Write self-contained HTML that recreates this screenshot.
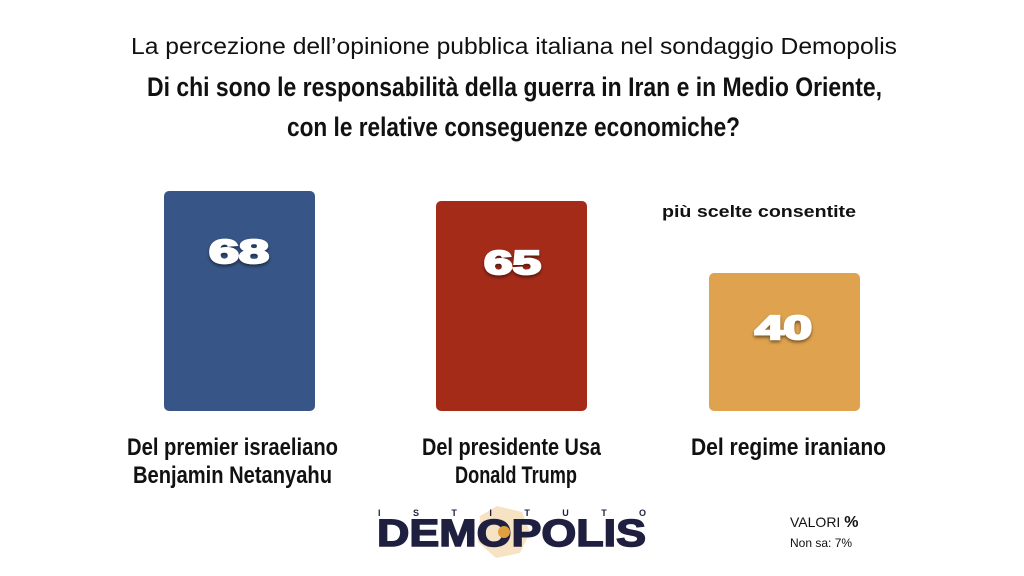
<!DOCTYPE html>
<html><head><meta charset="utf-8"><style>html,body{margin:0;padding:0;background:#fff;}svg{display:block}</style></head>
<body>
<svg width="1024" height="576" xmlns="http://www.w3.org/2000/svg" font-family="Liberation Sans, sans-serif">
<rect width="1024" height="576" fill="#fff"/>
<text x="131" y="54" font-size="23" fill="#111" textLength="766" lengthAdjust="spacingAndGlyphs">La percezione dell’opinione pubblica italiana nel sondaggio Demopolis</text>
<text x="147" y="96" font-size="27" font-weight="bold" fill="#111" textLength="735" lengthAdjust="spacingAndGlyphs">Di chi sono le responsabilità della guerra in Iran e in Medio Oriente,</text>
<text x="287" y="136" font-size="27" font-weight="bold" fill="#111" textLength="453" lengthAdjust="spacingAndGlyphs">con le relative conseguenze economiche?</text>
<defs><filter id="sh" x="-20%" y="-20%" width="140%" height="160%"><feDropShadow dx="0" dy="2" stdDeviation="1.5" flood-color="#000" flood-opacity="0.5"/></filter></defs>
<rect x="164" y="191" width="151" height="220" rx="5" fill="#375586"/>
<rect x="436" y="201" width="151" height="210" rx="5" fill="#a52b19"/>
<rect x="709" y="273" width="151" height="138" rx="5" fill="#dfa34f"/>
<g font-size="33" font-weight="900" fill="#fff" stroke="#fff" stroke-width="2.2" filter="url(#sh)">
<text x="209" y="263" textLength="60" lengthAdjust="spacingAndGlyphs">68</text>
<text x="484" y="274" textLength="57" lengthAdjust="spacingAndGlyphs">65</text>
<text x="755" y="339" textLength="57" lengthAdjust="spacingAndGlyphs">40</text>
</g>
<text x="662" y="217" font-size="17" font-weight="bold" fill="#111" textLength="194" lengthAdjust="spacingAndGlyphs">più scelte consentite</text>
<g font-size="24" font-weight="bold" fill="#111">
<text x="127" y="455" textLength="211" lengthAdjust="spacingAndGlyphs">Del premier israeliano</text>
<text x="133" y="483" textLength="199" lengthAdjust="spacingAndGlyphs">Benjamin Netanyahu</text>
<text x="422" y="455" textLength="179" lengthAdjust="spacingAndGlyphs">Del presidente Usa</text>
<text x="455" y="483" textLength="122" lengthAdjust="spacingAndGlyphs">Donald Trump</text>
<text x="691" y="455" textLength="195" lengthAdjust="spacingAndGlyphs">Del regime iraniano</text>
</g>
<polygon points="497,506 522,512 530,532 520,553 496,558 478,542 480,516" fill="#f3dcb4" opacity="0.8"/>
<text x="378" y="516" font-size="9" font-weight="bold" fill="#1f1f40" textLength="268" lengthAdjust="spacing">ISTITUTO</text>
<text x="377" y="546" font-size="38" font-weight="900" fill="#1f1f40" stroke="#1f1f40" stroke-width="1.5" textLength="269" lengthAdjust="spacingAndGlyphs">DEMOPOLIS</text>
<circle cx="504" cy="532" r="6" fill="#e0a040"/>
<text x="790" y="527" font-size="14" fill="#111">VALORI <tspan font-weight="bold" font-size="16">%</tspan></text>
<text x="790" y="547" font-size="12" fill="#111">Non sa: 7%</text>
</svg>
</body></html>
